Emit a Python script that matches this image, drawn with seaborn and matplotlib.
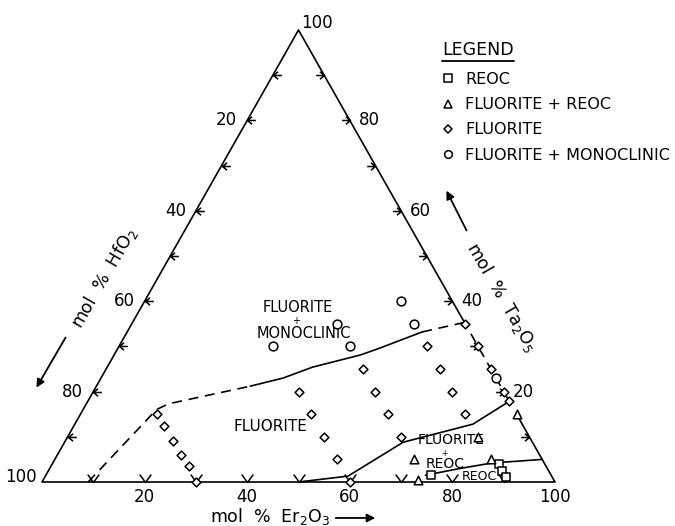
import numpy as np
import pandas as pd
import matplotlib.pyplot as plt
import seaborn as sns
from matplotlib.path import Path
from matplotlib.lines import Line2D

sns.set_style('white')
plt.rcParams['font.family'] = ['DejaVu Sans', 'Noto Sans']
plt.rcParams['text.color'] = 'black'

# compositions: mol % Er2O3 and mol % Ta2O5 (rest is HfO2)
reoc_er = [75, 87, 88.5, 90]
reoc_ta = [1.5, 4, 2.5, 1]
flreoc_er = [85, 80, 70, 85, 73]
flreoc_ta = [15, 10, 5, 5, 0.5]
fl_er = [15, 17.5, 21, 24, 27, 30,
         40, 45, 50, 55, 60,
         50, 55, 60, 65,
         60, 65, 70, 75,
         65, 70, 75, 80, 82]
fl_ta = [15, 12.5, 9, 6, 3.5, 0,
         20, 15, 10, 5, 0,
         25, 20, 15, 10,
         30, 25, 20, 15,
         35, 30, 25, 20, 18]
flmono_er = [30, 40, 45, 50, 55, 77]
flmono_ta = [30, 35, 30, 40, 35, 23]

phases = ['REOC', 'FLUORITE + REOC', 'FLUORITE', 'FLUORITE + MONOCLINIC']
phase_markers = {'REOC': 's', 'FLUORITE + REOC': '^', 'FLUORITE': 'D', 'FLUORITE + MONOCLINIC': 'o'}
phase_sizes = {'REOC': 30, 'FLUORITE + REOC': 38, 'FLUORITE': 20, 'FLUORITE + MONOCLINIC': 40}

# phase boundaries (Er2O3, Ta2O5)
bnd1_dash_er = [9, 14.3, 16, 30]
bnd1_dash_ta = [0, 16, 17.3, 21.2]
bnd1_er = [30, 35.5, 40, 48, 51, 57.5]
bnd1_ta = [21.2, 23, 25.4, 28.1, 29.6, 33.2]
bnd1_dash2_er = [57.5, 65]
bnd1_dash2_ta = [33.2, 35.4]
bnd2_er = [50, 59, 66, 77.6, 82.4]
bnd2_ta = [0, 1.3, 8.8, 12.8, 18.1]
bnd3_er = [74, 80, 85.6, 95]
bnd3_ta = [1.5, 3, 4.2, 5]

tick_vals = [10, 20, 30, 40, 50, 60, 70, 80, 90]
label_vals = [20, 40, 60, 80, 100]


def cart(er, ta):
    er = np.asarray(er, dtype=float)
    ta = np.asarray(ta, dtype=float)
    return er + ta / 2, ta


rows = []
for name, ers, tas in [('REOC', reoc_er, reoc_ta), ('FLUORITE + REOC', flreoc_er, flreoc_ta),
                       ('FLUORITE', fl_er, fl_ta), ('FLUORITE + MONOCLINIC', flmono_er, flmono_ta)]:
    for e, t in zip(ers, tas):
        rows.append((name, e, t))
df = pd.DataFrame(rows, columns=['phase', 'Er2O3', 'Ta2O5'])
df['HfO2'] = 100 - df['Er2O3'] - df['Ta2O5']
df['x'], df['y'] = cart(df['Er2O3'], df['Ta2O5'])

fig = plt.figure(figsize=(6.75, 5.26), dpi=100)
ax = fig.add_axes([0, 0, 1, 1])
ax.set_xlim(-42 / 5.13, 633 / 5.13)
ax.set_ylim(-44 / 4.52, 482 / 4.52)
ax.axis('off')

lw = 1.2
k = dict(color='black', lw=lw, solid_capstyle='round')
# triangle frame
x, y = cart([64, 0, 0, 100, 86], [36, 100, 0, 0, 14])
ax.plot(x, y, **k)
x, y = cart([64, 82], [36, 18])
ax.plot(x, y, ls=(0, (6, 4)), **k)

# boundaries
for ers, tas, ls in [(bnd1_dash_er, bnd1_dash_ta, (0, (6, 4))), (bnd1_er, bnd1_ta, '-'),
                     (bnd1_dash2_er, bnd1_dash2_ta, (0, (6, 4))), (bnd2_er, bnd2_ta, '-'),
                     (bnd3_er, bnd3_ta, '-')]:
    x, y = cart(ers, tas)
    ax.plot(x, y, ls=ls, **k)

# arrow-like tick marks
left_tick = Path([(1, 0), (0, 0), (0.55, 0.45), (0, 0), (0.55, -0.45)],
                 [Path.MOVETO, Path.LINETO, Path.MOVETO, Path.LINETO, Path.LINETO])
right_tick = Path([(-1, 0), (0, 0), (-0.55, 0.45), (0, 0), (-0.55, -0.45)],
                  [Path.MOVETO, Path.LINETO, Path.MOVETO, Path.LINETO, Path.LINETO])
bottom_tick = Path([(-0.65, 0.9), (0, 0), (0.65, 0.9)],
                   [Path.MOVETO, Path.LINETO, Path.LINETO])
tv = np.array(tick_vals, dtype=float)
mk = dict(ls='none', mfc='none', mec='black', mew=1.1, clip_on=False)
x, y = cart(np.zeros_like(tv), 100 - tv)
ax.plot(x, y, marker=left_tick, ms=12, **mk)
x, y = cart(100 - tv, tv)
ax.plot(x, y, marker=right_tick, ms=12, **mk)
x, y = cart(tv, np.zeros_like(tv))
ax.plot(x, y, marker=bottom_tick, ms=11.5, **mk)

# tick labels
fs = 12
for v in label_vals:
    x, y = cart(0, 100 - v)
    off = (-10, 0) if v < 100 else (-5, 5)
    ax.annotate(str(v), (x, y), xytext=off, textcoords='offset pixels',
                ha='right', va='center', fontsize=fs)
    x, y = cart(100 - v, v)
    off = (9, 0) if v < 100 else (3, 7)
    ax.annotate(str(v), (x, y), xytext=off, textcoords='offset pixels',
                ha='left', va='center', fontsize=fs)
    x, y = cart(v, 0)
    ax.annotate(str(v), (x, y), xytext=(0, -15), textcoords='offset pixels',
                ha='center', va='center', fontsize=fs)

# data points
for p in phases:
    sub = df[df['phase'] == p]
    sns.scatterplot(data=sub, x='x', y='y', marker=phase_markers[p], s=phase_sizes[p],
                    color='white', edgecolor='black', linewidth=1.1, ax=ax,
                    clip_on=False, zorder=4, legend=False)

# axis titles with arrows
ax.text(44.4, -7.6, 'mol  %  Er$_2$O$_3$', ha='center', va='center', fontsize=12.5)
ax.annotate('', xy=(65.5, -7.96), xytext=(56.7, -7.96),
            arrowprops=dict(arrowstyle='-|>', color='black', lw=1.3, mutation_scale=12))
ax.text(12.1, 45.1, 'mol  %  HfO$_2$', ha='center', va='center', fontsize=12.5, rotation=60,
        rotation_mode='anchor')
ax.annotate('', xy=(-1.36, 20.35), xytext=(4.87, 32.5),
            arrowprops=dict(arrowstyle='-|>', color='black', lw=1.3, mutation_scale=12))
ax.text(89.7, 40.9, 'mol  %  Ta$_2$O$_5$', ha='center', va='center', fontsize=12.5, rotation=-60,
        rotation_mode='anchor')
ax.annotate('', xy=(78.6, 65.0), xytext=(83.0, 55.1),
            arrowprops=dict(arrowstyle='-|>', color='black', lw=1.3, mutation_scale=12))

# field labels
ax.text(49.9, 38.6, 'FLUORITE', ha='center', va='center', fontsize=10.5)
ax.text(49.5, 35.7, '+', ha='center', va='center', fontsize=7)
ax.text(51.1, 32.9, 'MONOCLINIC', ha='center', va='center', fontsize=10.5)
ax.text(44.6, 12.2, 'FLUORITE', ha='center', va='center', fontsize=11)
ax.text(79.7, 9.2, 'FLUORITE', ha='center', va='center', fontsize=10)
ax.text(78.4, 6.4, '+', ha='center', va='center', fontsize=5.5)
ax.text(78.6, 3.9, 'REOC', ha='center', va='center', fontsize=10)
ax.text(85.2, 1.3, 'REOC', ha='center', va='center', fontsize=9)

# legend
title = ax.text((442 - 42) / 5.13, (482 - 50) / 4.52, 'LEGEND', ha='left', va='center',
                fontsize=12.5)
handles = [Line2D([], [], ls='none', marker=phase_markers[p], mfc='white', mec='black',
                  mew=1.1, ms=5.5 if p != 'FLUORITE' else 4.2) for p in phases]
leg = ax.legend(handles, phases, loc='upper left',
                bbox_to_anchor=(442 / 675, 1 - 72 / 526), frameon=False, fontsize=11.5,
                borderpad=0, borderaxespad=0,
                handlelength=0.8, handletextpad=0.64, labelspacing=0.64)
fig.canvas.draw()
bb = title.get_window_extent()
fig.add_artist(Line2D([bb.x0 / 675, bb.x1 / 675], [(bb.y0 - 2) / 526, (bb.y0 - 2) / 526],
                      transform=fig.transFigure, color='black', lw=1.3))

fig.savefig('out.png', dpi=100)
